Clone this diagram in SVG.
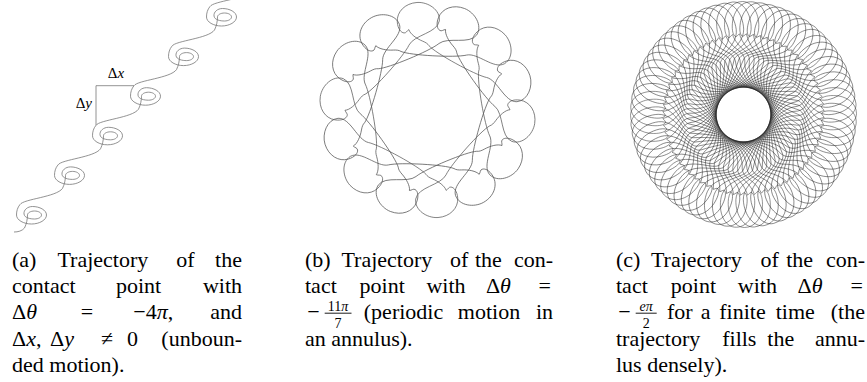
<svg xmlns="http://www.w3.org/2000/svg" width="867" height="382" viewBox="0 0 867 382">
<style>
.t{font-family:"Liberation Serif","Times New Roman",serif;font-size:22px;fill:#000}
.e{text-anchor:end}
.m{text-anchor:middle}
.s{font-size:14px}
.i{font-style:italic}
.lbl{font-family:"Liberation Serif","Times New Roman",serif;font-size:15px;fill:#000}
.ca{fill:none;stroke:#777;stroke-width:0.8}
.cb{fill:none;stroke:#555;stroke-width:0.7}
.cc{fill:none;stroke:#222;stroke-width:0.48}
.bar{stroke:#000;stroke-width:0.9}
</style>
<defs>
<path id="sp" d="M -7,13 C -5,9 -4,4 -4,0 C -4,-2.2 -0.9,-4 3,-4 C 6.9,-4 10,-2.2 10,0 C 10,2.2 6.9,4 3,4 C -1,4 -7,3 -7.5,-1 C -8,-5 -4,-8.5 1,-8.5 C 8,-8.5 15,-5 15,0 C 15,5 8,9 0,9 C -8,9 -15,5 -15,0 C -15,-4 -14,-7.5 -11.5,-10.5 C -8,-16 25,-18 31,-26.6"/>
<path id="lb" d="M -14,-66 C -8,-76 15,-76 18,-88 C 20,-99 8,-108 -3,-108 C -15,-108 -24,-100 -24,-90 C -24,-83 -21,-79 -18,-78.5 C -16,-78 -15,-80.5 -13,-81.5 C -12,-77 -6,-72 0,-69 C 3,-67.5 5,-66 6,-64 C 12,-56 49.7,-31.7 61.2,-28.3"/>
<path id="lc" d="M -14,-54 C -13,-62 12,-66 15,-84 C 17,-100 9,-113 -1,-113 C -12,-113 -19,-102 -19,-90 C -19,-82 -17,-78 -15,-77 C -13.5,-76.5 -12.5,-79 -11,-80 C -9,-74 -4,-68 1,-64 C 4,-61.5 6,-58 6,-54 C 2,-30 30,-6 54.9,10.1"/>
</defs>

<g id="fig-a">
<g class="ca">
<path d="M 14,232 C 18,232 22,231 24.5,228"/>
<use href="#sp" transform="translate(31.5,215)"/>
<use href="#sp" transform="translate(69.5,175.4)"/>
<use href="#sp" transform="translate(107.5,135.8)"/>
<use href="#sp" transform="translate(145.5,96.2)"/>
<use href="#sp" transform="translate(183.5,56.6)"/>
<use href="#sp" transform="translate(221.5,17)"/>
<path d="M 96,125.3 V 85.7 H 134"/>
</g>
<text class="lbl m" x="116" y="78">Δ<tspan class="i">x</tspan></text>
<text class="lbl e" x="92" y="107.5">Δ<tspan class="i">y</tspan></text>
</g>

<g id="fig-b" class="cb" transform="translate(427.5,110)">
<use href="#lb" transform="rotate(-4)"/>
<use href="#lb" transform="rotate(21.714)"/>
<use href="#lb" transform="rotate(47.429)"/>
<use href="#lb" transform="rotate(73.143)"/>
<use href="#lb" transform="rotate(98.857)"/>
<use href="#lb" transform="rotate(124.571)"/>
<use href="#lb" transform="rotate(150.286)"/>
<use href="#lb" transform="rotate(176)"/>
<use href="#lb" transform="rotate(201.714)"/>
<use href="#lb" transform="rotate(227.429)"/>
<use href="#lb" transform="rotate(253.143)"/>
<use href="#lb" transform="rotate(278.857)"/>
<use href="#lb" transform="rotate(304.571)"/>
<use href="#lb" transform="rotate(330.286)"/>
</g>

<g id="fig-c" class="cc" transform="translate(743.5,114.5)">
<use href="#lc" transform="rotate(0)"/><use href="#lc" transform="rotate(5)"/><use href="#lc" transform="rotate(10)"/><use href="#lc" transform="rotate(15)"/><use href="#lc" transform="rotate(20)"/><use href="#lc" transform="rotate(25)"/>
<use href="#lc" transform="rotate(30)"/><use href="#lc" transform="rotate(35)"/><use href="#lc" transform="rotate(40)"/><use href="#lc" transform="rotate(45)"/><use href="#lc" transform="rotate(50)"/><use href="#lc" transform="rotate(55)"/>
<use href="#lc" transform="rotate(60)"/><use href="#lc" transform="rotate(65)"/><use href="#lc" transform="rotate(70)"/><use href="#lc" transform="rotate(75)"/><use href="#lc" transform="rotate(80)"/><use href="#lc" transform="rotate(85)"/>
<use href="#lc" transform="rotate(90)"/><use href="#lc" transform="rotate(95)"/><use href="#lc" transform="rotate(100)"/><use href="#lc" transform="rotate(105)"/><use href="#lc" transform="rotate(110)"/><use href="#lc" transform="rotate(115)"/>
<use href="#lc" transform="rotate(120)"/><use href="#lc" transform="rotate(125)"/><use href="#lc" transform="rotate(130)"/><use href="#lc" transform="rotate(135)"/><use href="#lc" transform="rotate(140)"/><use href="#lc" transform="rotate(145)"/>
<use href="#lc" transform="rotate(150)"/><use href="#lc" transform="rotate(155)"/><use href="#lc" transform="rotate(160)"/><use href="#lc" transform="rotate(165)"/><use href="#lc" transform="rotate(170)"/><use href="#lc" transform="rotate(175)"/>
<use href="#lc" transform="rotate(180)"/><use href="#lc" transform="rotate(185)"/><use href="#lc" transform="rotate(190)"/><use href="#lc" transform="rotate(195)"/><use href="#lc" transform="rotate(200)"/><use href="#lc" transform="rotate(205)"/>
<use href="#lc" transform="rotate(210)"/><use href="#lc" transform="rotate(215)"/><use href="#lc" transform="rotate(220)"/><use href="#lc" transform="rotate(225)"/><use href="#lc" transform="rotate(230)"/><use href="#lc" transform="rotate(235)"/>
<use href="#lc" transform="rotate(240)"/><use href="#lc" transform="rotate(245)"/><use href="#lc" transform="rotate(250)"/><use href="#lc" transform="rotate(255)"/><use href="#lc" transform="rotate(260)"/><use href="#lc" transform="rotate(265)"/>
<use href="#lc" transform="rotate(270)"/><use href="#lc" transform="rotate(275)"/><use href="#lc" transform="rotate(280)"/><use href="#lc" transform="rotate(285)"/><use href="#lc" transform="rotate(290)"/><use href="#lc" transform="rotate(295)"/>
<use href="#lc" transform="rotate(300)"/><use href="#lc" transform="rotate(305)"/><use href="#lc" transform="rotate(310)"/><use href="#lc" transform="rotate(315)"/><use href="#lc" transform="rotate(320)"/><use href="#lc" transform="rotate(325)"/>
<use href="#lc" transform="rotate(330)"/><use href="#lc" transform="rotate(335)"/><use href="#lc" transform="rotate(340)"/><use href="#lc" transform="rotate(345)"/><use href="#lc" transform="rotate(350)"/><use href="#lc" transform="rotate(355)"/>
</g>

<g id="cap-a">
<text class="t" y="266.5"><tspan x="12">(a)</tspan><tspan x="57.4">Trajectory</tspan><tspan x="176.3">of</tspan></text>
<text class="t e" x="242" y="266.5">the</text>
<text class="t" y="292.9"><tspan x="12">contact</tspan><tspan x="116">point</tspan></text>
<text class="t e" x="242" y="292.9">with</text>
<text class="t" x="12" y="319.3">Δ<tspan class="i">θ</tspan></text>
<text class="t m" x="87" y="319.3">=</text>
<text class="t" x="133.3" y="319.3">−4<tspan class="i">π</tspan>,</text>
<text class="t e" x="242" y="319.3">and</text>
<text class="t" x="12" y="345.7">Δ<tspan class="i">x</tspan>,</text>
<text class="t" x="50" y="345.7">Δ<tspan class="i">y</tspan></text>
<text class="t m" x="107" y="345.7">≠</text>
<text class="t" x="127" y="345.7">0</text>
<text class="t e" x="242" y="345.7">(unboun-</text>
<text class="t" x="12" y="372.1">ded motion).</text>
</g>

<g id="cap-b">
<text class="t" y="266.5"><tspan x="305">(b)</tspan><tspan x="341.4">Trajectory</tspan><tspan x="450.1">of</tspan><tspan x="474.9">the</tspan></text>
<text class="t e" x="553" y="266.5">con-</text>
<text class="t" y="292.9"><tspan x="305">tact</tspan><tspan x="359.6">point</tspan><tspan x="426.4">with</tspan><tspan x="485.9">Δ</tspan><tspan class="i">θ</tspan></text>
<text class="t m" x="544.6" y="292.9">=</text>
<text class="t m" x="313.5" y="319.3">−</text>
<text class="t s m" x="338.1" y="310.5">11<tspan class="i">π</tspan></text>
<line class="bar" x1="324.7" y1="313.2" x2="351.5" y2="313.2"/>
<text class="t s m" x="338.1" y="327.5">7</text>
<text class="t" y="319.3"><tspan x="363.8">(periodic</tspan><tspan x="457.8">motion</tspan></text>
<text class="t e" x="553" y="319.3">in</text>
<text class="t" x="305" y="345.7">an annulus).</text>
</g>

<g id="cap-c">
<text class="t" y="266.5"><tspan x="616">(c)</tspan><tspan x="650.9">Trajectory</tspan><tspan x="760.5">of</tspan><tspan x="786.2">the</tspan></text>
<text class="t e" x="865" y="266.5">con-</text>
<text class="t" y="292.9"><tspan x="616">tact</tspan><tspan x="670.8">point</tspan><tspan x="737.8">with</tspan><tspan x="797.5">Δ</tspan><tspan class="i">θ</tspan></text>
<text class="t m" x="856.6" y="292.9">=</text>
<text class="t m" x="624.5" y="319.3">−</text>
<text class="t s m i" x="646.2" y="310.5">eπ</text>
<line class="bar" x1="635.7" y1="313.2" x2="656.7" y2="313.2"/>
<text class="t s m" x="646.2" y="327.5">2</text>
<text class="t" y="319.3"><tspan x="666.9">for</tspan><tspan x="700.7">a</tspan><tspan x="719.3">finite</tspan><tspan x="775.7">time</tspan></text>
<text class="t e" x="865" y="319.3">(the</text>
<text class="t" y="345.7"><tspan x="616">trajectory</tspan><tspan x="722.2">fills</tspan><tspan x="767.3">the</tspan></text>
<text class="t e" x="865" y="345.7">annu-</text>
<text class="t" x="616" y="372.1">lus densely).</text>
</g>
</svg>
